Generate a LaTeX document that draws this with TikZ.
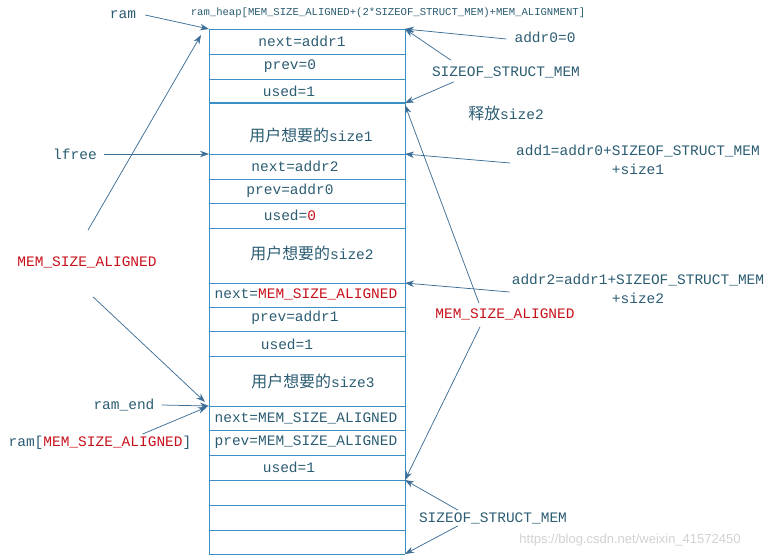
\documentclass[tikz,border=0pt]{standalone}
\usepackage{fontspec}
\setmonofont{Liberation Mono}
\newfontfamily\cjk{Noto Sans CJK SC}[Scale=1.1]
\newfontfamily\marksans{Liberation Sans}
\usetikzlibrary{arrows.meta,positioning,calc}
\definecolor{heapblue}{HTML}{3A8FC4}
\definecolor{ptrblue}{HTML}{3D6E97}
\definecolor{heaptext}{HTML}{2B5C72}
\definecolor{memred}{HTML}{C8101A}
\newcommand{\memtxt}[1]{\textcolor{memred}{#1}}
\tikzset{
    every node/.style={font=\ttfamily\fontsize{14.5}{19}\selectfont,text=heaptext,inner sep=1pt},
    heapline/.style={draw=heapblue,line width=0.8pt},
    cell/.style={anchor=center},
    heaptitle/.style={font=\ttfamily\fontsize{10.6}{12}\selectfont},
    twoline/.style={align=center},
    redlabel/.style={text=memred},
    ptr/.style={draw=ptrblue,line width=0.75pt,-{Stealth[length=9pt,width=6.5pt]}}
}

\begin{document}
\begin{tikzpicture}[x=1pt,y=-1pt]
    \useasboundingbox (0,0) rectangle (776,559);
    % heap block boundaries
    \foreach \y [count=\i from 0] in {29,54,79,103,154,179,203,228,283,307,331,356,406,430,455,480,505,530,554} {
        \coordinate (L\i) at (209,\y);
        \coordinate (R\i) at (405,\y);
        \draw[heapline] (L\i) -- (R\i);
    }
    \draw[heapline] (L0) -- (L18) (R0) -- (R18);
    \draw[heapline,line width=1.8pt] (L3) -- (R3);

    \node[heaptitle] (title) at (388,13) {ram\_heap[MEM\_SIZE\_ALIGNED+(2*SIZEOF\_STRUCT\_MEM)+MEM\_ALIGNMENT]};

    % cells
    \node[cell] (next1) at (302,41) {next=addr1};
    \node[cell] (prev1) at (290,66) {prev=0};
    \node[cell] (used1) at (289,91) {used=1};
    \node[cell] (size1) at (311,135) {{\cjk 用户想要的}size1};
    \node[cell] (next2) at (295,166) {next=addr2};
    \node[cell] (prev2) at (290,191) {prev=addr0};
    \node[cell] (used2) at (290,215) {used=\memtxt{0}};
    \node[cell] (size2) at (312,253) {{\cjk 用户想要的}size2};
    \node[cell] (next3) at (306,294) {next=\memtxt{MEM\_SIZE\_ALIGNED}};
    \node[cell] (prev3) at (295,318) {prev=addr1};
    \node[cell] (used3) at (287,344) {used=1};
    \node[cell] (size3) at (313,381) {{\cjk 用户想要的}size3};
    \node[cell] (next4) at (306,418) {next=MEM\_SIZE\_ALIGNED};
    \node[cell] (prev4) at (306,442) {prev=MEM\_SIZE\_ALIGNED};
    \node[cell] (used4) at (289,467) {used=1};

    % left labels
    \node (ram) at (123,15) {ram};
    \node (lfree) at (75,154) {lfree};
    \node[redlabel] (memL) at (87,262) {MEM\_SIZE\_ALIGNED};
    \node (ramend) at (124,405) {ram\_end};
    \node (ramidx) at (100,443) {ram[\memtxt{MEM\_SIZE\_ALIGNED}]};

    % right labels
    \node (addr0) at (545,37) {addr0=0};
    \node (sizeofA) at (506,72) {SIZEOF\_STRUCT\_MEM};
    \node (free2) at (506,113) {{\cjk 释放}size2};
    \node[twoline] (addr1) at (638,160) {add1=addr0+SIZEOF\_STRUCT\_MEM\\+size1};
    \node[twoline] (addr2) at (638,289) {addr2=addr1+SIZEOF\_STRUCT\_MEM\\+size2};
    \node[redlabel] (memR) at (505,314) {MEM\_SIZE\_ALIGNED};
    \node (sizeofB) at (493,518) {SIZEOF\_STRUCT\_MEM};
    \node[font=\marksans\fontsize{13}{14}\selectfont,text=black!18] (mark) at (630,540) {https://blog.csdn.net/weixin\_41572450};

    % pointers
    \path[ptr] ([xshift=8pt]ram.east) -- (L0);
    \path[ptr] ([xshift=6pt]lfree.east) -- (L4);
    \path[ptr] ([yshift=25pt,xshift=1pt]memL.north) -- ([xshift=-8pt,yshift=-6pt]L0);
    \path[ptr] ([yshift=-28pt,xshift=6pt]memL.south) -- ([xshift=-4pt,yshift=4pt]L12);
    \path[ptr] ([xshift=6pt]ramend.east) -- (L12);
    \path[ptr] ([xshift=-50pt,yshift=1pt]ramidx.north east) -- ([xshift=-2pt,yshift=-1pt]L12);
    \path[ptr] ([xshift=-7pt,yshift=-2pt]addr0.west) -- (R0);
    \path[ptr] ([xshift=20pt,yshift=5pt]sizeofA.north west) -- (R0);
    \path[ptr] ([xshift=23pt,yshift=-3pt]sizeofA.south west) -- (R3);
    \path[ptr] ([xshift=-5pt,yshift=-3pt]addr1.west) -- (R4);
    \path[ptr] ([xshift=-1pt,yshift=-3pt]addr2.west) -- (R8);
    \path[ptr] ([xshift=-26pt,yshift=4pt]memR.north) -- ([yshift=-2pt]R3);
    \path[ptr] ([xshift=-25pt,yshift=-6pt]memR.south) -- (R15);
    \path[ptr] ([xshift=-35pt,yshift=1pt]sizeofB.north) -- (R15);
    \path[ptr] ([xshift=-35pt,yshift=-1pt]sizeofB.south) -- (R18);
\end{tikzpicture}
\end{document}
